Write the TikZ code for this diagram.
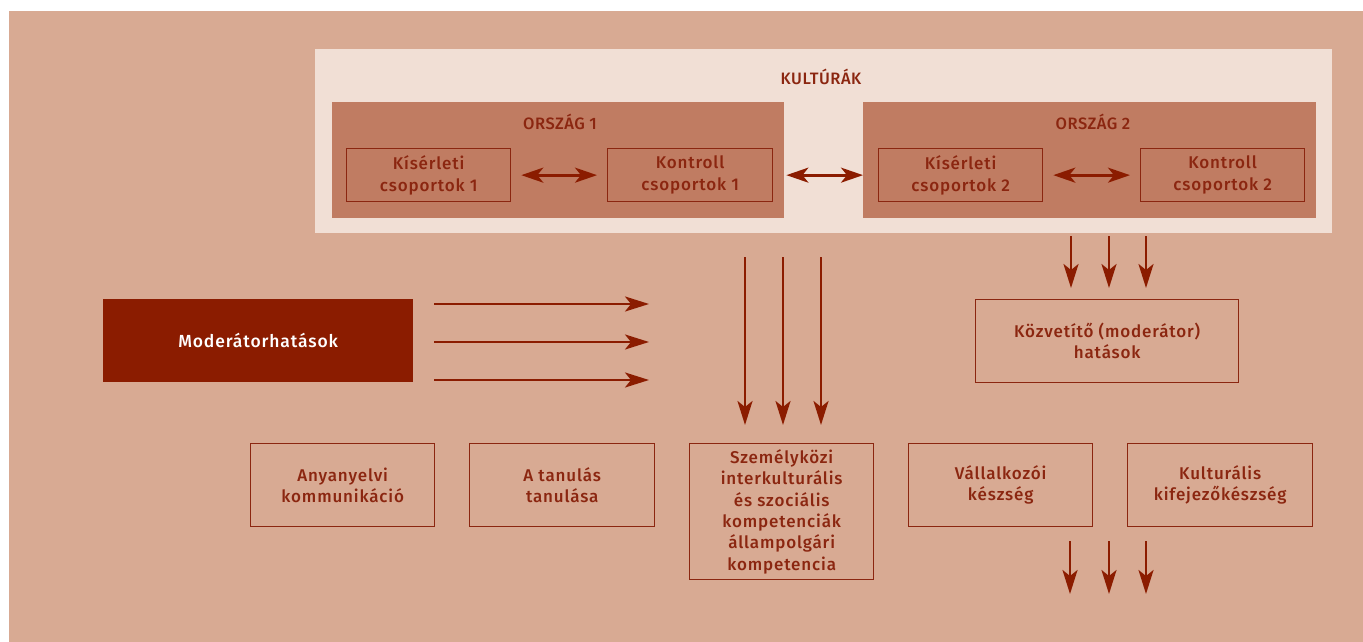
\documentclass[tikz,border=0pt]{standalone}
\usepackage{fontspec}
\setmainfont[LetterSpace=5]{Fira Sans Medium}
\newfontfamily\capsfont[LetterSpace=3]{Fira Sans Medium}
\usetikzlibrary{arrows.meta}
\definecolor{bgc}{HTML}{D8AA93}
\definecolor{lightc}{HTML}{F1DFD5}
\definecolor{midc}{HTML}{C07C62}
\definecolor{darkc}{HTML}{8B1C00}
\definecolor{txtc}{HTML}{8B2610}
\tikzset{
  box/.style={rectangle, anchor=north west, inner sep=0pt, align=center},
  lightbox/.style={box, fill=lightc},
  orszbox/.style={box, fill=midc},
  grpbox/.style={box, draw=txtc, line width=1.3pt, text=txtc, font=\fontsize{17}{22.5}\selectfont},
  compbox/.style={box, draw=txtc, line width=1.4pt, text=txtc, font=\fontsize{17}{21.3}\selectfont},
  modbox/.style={box, fill=darkc, text=white, font=\fontsize{17.5}{21}\selectfont},
  titlelbl/.style={text=txtc, font=\capsfont\fontsize{16.5}{18}\selectfont, inner sep=0pt},
  arr/.style={-{Stealth[length=24pt,width=15pt,inset=6pt]}, line width=2.5pt, draw=darkc},
  darr/.style={{Stealth[length=22pt,width=15pt,inset=6pt]}-{Stealth[length=22pt,width=15pt,inset=6pt]}, line width=2.7pt, draw=darkc},
}
\begin{document}
\begin{tikzpicture}[x=1pt,y=-1pt]
\useasboundingbox (0,0) rectangle (1363,642);
\fill[white] (0,0) rectangle (1363,642);
\fill[bgc] (9,11) rectangle (1363,642);

% containers
\node[lightbox, minimum width=1017pt, minimum height=184pt] (kult) at (315,49) {};
\node[titlelbl] (kultlbl) at (821,77) {KULTÚRÁK};
\node[orszbox, minimum width=452pt, minimum height=116pt] (o1) at (332,102) {};
\node[orszbox, minimum width=453pt, minimum height=116pt] (o2) at (863,102) {};
\node[titlelbl] (o1lbl) at (560,122) {ORSZÁG 1};
\node[titlelbl] (o2lbl) at (1093,122) {ORSZÁG 2};

% group boxes
\node[grpbox, minimum width=164pt, minimum height=53pt] (k1) at (346,148) {Kísérleti\\csoportok 1};
\node[grpbox, minimum width=165pt, minimum height=53pt] (c1) at (607,148) {Kontroll\\csoportok 1};
\node[grpbox, minimum width=164pt, minimum height=53pt] (k2) at (878,148) {Kísérleti\\csoportok 2};
\node[grpbox, minimum width=164pt, minimum height=53pt] (c2) at (1140,148) {Kontroll\\csoportok 2};

\draw[darr, shorten <=10pt, shorten >=10pt] (k1.east) -- (c1.west);
\draw[darr, shorten <=10pt, shorten >=10pt] (k2.east) -- (c2.west);
\draw[darr, shorten <=2pt] (c1.east -| o1.east) -- (k2.west -| o2.west);

% moderator box
\node[modbox, minimum width=310pt, minimum height=83pt] (mod) at (103,299) {Moderátorhatások};
\coordinate (m1s) at (434,304); \coordinate (m1e) at (649,304);
\coordinate (m2s) at (434,342); \coordinate (m2e) at (649,342);
\coordinate (m3s) at (434,380); \coordinate (m3e) at (649,380);
\draw[arr] (m1s) -- (m1e);
\draw[arr] (m2s) -- (m2e);
\draw[arr] (m3s) -- (m3e);

% mediator box
\node[compbox, minimum width=263pt, minimum height=83pt] (kozv) at (975,299) {Közvetítő (moderátor)\\hatások};
\draw[arr, shorten <=3pt, shorten >=11pt] (kult.south -| 1071,0) -- (kozv.north -| 1071,0);
\draw[arr, shorten <=3pt, shorten >=11pt] (kult.south -| 1109,0) -- (kozv.north -| 1109,0);
\draw[arr, shorten <=3pt, shorten >=11pt] (kult.south -| 1146,0) -- (kozv.north -| 1146,0);

% competence boxes
\node[compbox, minimum width=184pt, minimum height=83pt] (any) at (250,443) {Anyanyelvi\\kommunikáció};
\node[compbox, minimum width=185pt, minimum height=83pt] (tan) at (469,443) {A tanulás\\tanulása};
\node[compbox, minimum width=184pt, minimum height=136pt] (szem) at (689,443) {Személyközi\\interkulturális\\és szociális\\kompetenciák\\állampolgári\\kompetencia};
\node[compbox, minimum width=184pt, minimum height=83pt] (vall) at (908,443) {Vállalkozói\\készség};
\node[compbox, minimum width=185pt, minimum height=83pt] (kult2) at (1127,443) {Kulturális\\kifejezőkészség};

% long vertical arrows
\coordinate (v1s) at (745,257); \coordinate (v1e) at (745,425);
\coordinate (v2s) at (783,257); \coordinate (v2e) at (783,425);
\coordinate (v3s) at (821,257); \coordinate (v3e) at (821,425);
\draw[arr] (v1s) -- (v1e);
\draw[arr] (v2s) -- (v2e);
\draw[arr] (v3s) -- (v3e);

% bottom arrows
\coordinate (b1s) at (1070,541); \coordinate (b1e) at (1070,594);
\coordinate (b2s) at (1109,541); \coordinate (b2e) at (1109,594);
\coordinate (b3s) at (1146,541); \coordinate (b3e) at (1146,594);
\draw[arr] (b1s) -- (b1e);
\draw[arr] (b2s) -- (b2e);
\draw[arr] (b3s) -- (b3e);
\end{tikzpicture}
\end{document}
